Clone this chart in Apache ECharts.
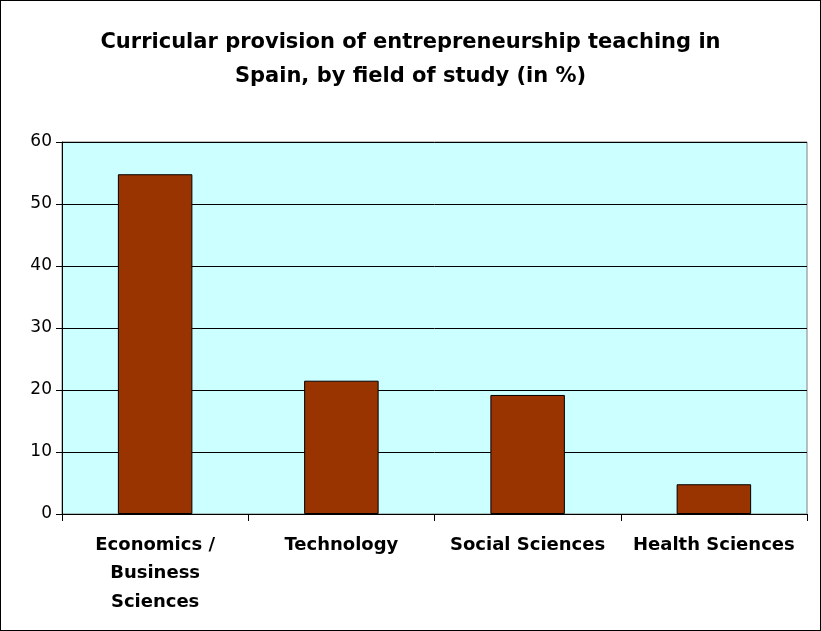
<!DOCTYPE html>
<html>
<head>
<meta charset="utf-8">
<script src="https://cdn.jsdelivr.net/npm/echarts@6/dist/echarts.min.js"></script>
<style>
  html, body { margin: 0; padding: 0; background: #fff; }
  #box {
    width: 819px;
    height: 629px;
    border: 1px solid #000;
  }
</style>
</head>
<body>
<div id="box"></div>
<script>
// data
const fields = ['Economics /\nBusiness\nSciences', 'Technology', 'Social Sciences', 'Health Sciences']
const shares = [54.8, 21.5, 19.2, 4.8]
const yTicks = [0, 10, 20, 30, 40, 50, 60]

const chart = echarts.init(document.getElementById('box'))
chart.setOption({
  animation: false,
  title: {
    text: 'Curricular provision of entrepreneurship teaching in\nSpain, by field of study (in %)',
    left: 'center',
    top: 20,
    textStyle: {
      fontFamily: 'DejaVu Sans',
      fontSize: 21,
      fontWeight: 'bold',
      color: '#000',
      lineHeight: 34
    }
  },
  grid: {
    left: 61,
    right: 13,
    top: 141,
    bottom: 116,
    show: true,
    backgroundColor: '#ccffff',
    borderColor: '#808080',
    borderWidth: 1
  },
  xAxis: {
    type: 'category',
    data: fields,
    axisLine: { lineStyle: { color: '#000', width: 1 } },
    axisTick: { show: true, length: 7, lineStyle: { color: '#000' } },
    axisLabel: {
      interval: 0,
      margin: 17,
      fontFamily: 'DejaVu Sans',
      fontSize: 18,
      fontWeight: 'bold',
      color: '#000',
      lineHeight: 28.5
    }
  },
  yAxis: {
    type: 'value',
    min: yTicks[0],
    max: yTicks[yTicks.length - 1],
    interval: 10,
    axisLine: { show: true, lineStyle: { color: '#000' } },
    axisTick: { show: true, length: 6, lineStyle: { color: '#000' } },
    splitLine: { lineStyle: { color: '#000', width: 1 } },
    axisLabel: {
      margin: 10,
      fontFamily: 'DejaVu Sans',
      fontSize: 17,
      color: '#000'
    }
  },
  series: [
    {
      type: 'bar',
      data: shares,
      barWidth: '40%',
      itemStyle: {
        color: '#993300',
        borderColor: '#000',
        borderWidth: 1
      }
    }
  ]
})
</script>
</body>
</html>
